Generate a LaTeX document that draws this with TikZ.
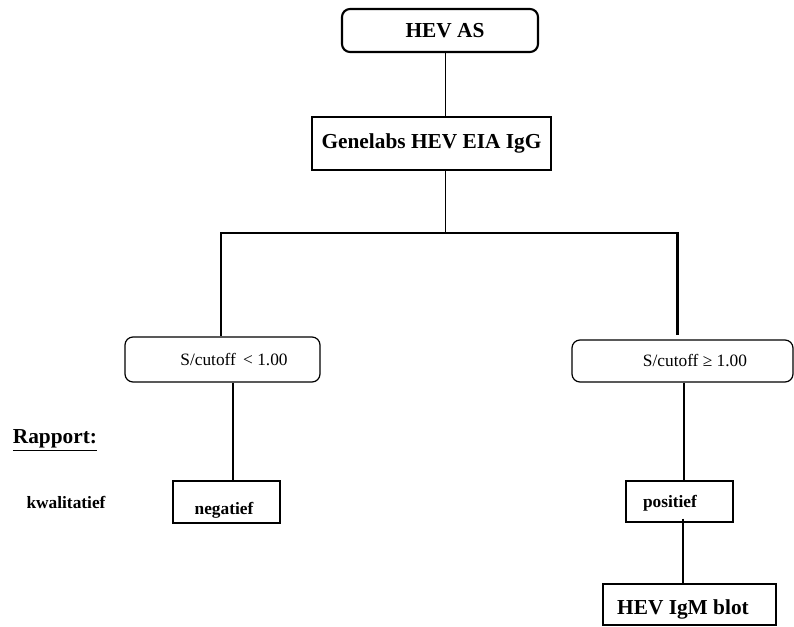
\documentclass[tikz,border=0pt]{standalone}
\usepackage{fontspec}
\setmainfont{Liberation Serif}
\usetikzlibrary{calc}
\def\bigfs{\fontsize{16}{18}\selectfont\bfseries}
\def\smallfs{\fontsize{13}{15}\selectfont}

\begin{document}
\begin{tikzpicture}[
	x=0.75pt,y=-0.75pt,
	box/.style={rectangle,draw,line width=0.9pt,inner sep=0pt},
	rbox/.style={rectangle,rounded corners=6pt,draw,line width=0.9pt,inner sep=0pt},
	txt/.style={inner sep=0pt,font=\smallfs\bfseries},
	link/.style={line width=1.2pt}
	]
	\useasboundingbox (0,0) rectangle (794,626);
	
	\node[rbox, line width=1.6pt, minimum width=147pt, minimum height=32.25pt] (hevas) at (440,30.5) {};
	\node[inner sep=0pt, font=\bigfs] (hevastxt) at (445,31) {HEV AS};
	\node[box, minimum width=179.25pt, minimum height=39.75pt, font=\bigfs] (eia) at (431.5,143.5) {Genelabs HEV EIA IgG};
	
	\coordinate (trunk) at (445,233);
	\coordinate (lsplit) at (221,233);
	\coordinate (rsplit) at (677,233);
	
	\draw[line width=0.75pt] (hevas.south -| trunk) -- (eia.north -| trunk);
	\draw[line width=0.75pt] (eia.south -| trunk) -- (trunk);
	\draw[line width=0.9pt] ($(lsplit)+(-1,0)$) -- ($(rsplit)+(2,0)$);
	
	\node[rbox, minimum width=146.25pt, minimum height=33.75pt] (low) at (222.5,359.5) {};
	\node[inner sep=0pt, font=\smallfs] (lowtxt) at (234,359.5) {S/cutoff\, < 1.00};
	\node[rbox, minimum width=165.75pt, minimum height=31.5pt] (high) at (682.5,361) {};
	\node[inner sep=0pt, font=\smallfs] (hightxt) at (695,361) {S/cutoff ≥ 1.00};
	
	\draw[line width=1.5pt] (lsplit) -- (low.north -| lsplit);
	\draw[line width=2.25pt] (rsplit) -- ($(high.north -| rsplit)+(0,-4)$);
	
	% rapport
	\node[inner sep=0pt, font=\bigfs] (rapport) at (55,440) {\underline{Rapport:}};
	\node[txt] (kwal) at (66,502) {kwalitatief};
	
	\node[box, minimum width=80.25pt, minimum height=31.5pt] (neg) at (226.5,502) {};
	\node[txt] (negtxt) at (224,510) {negatief};
	\node[box, minimum width=80.25pt, minimum height=30.75pt] (pos) at (679.5,501.5) {};
	\node[txt] (postxt) at (670,503) {positief};
	
	\draw[link] (low.south -| 233,0) -- (neg.north -| 233,0);
	\draw[link] (high.south -| 684,0) -- (pos.north -| 684,0);
	
	\node[box, minimum width=129.75pt, minimum height=30.75pt] (blot) at (689.5,604.5) {};
	\node[inner sep=0pt, font=\bigfs] (blottxt) at (683,609) {HEV IgM blot};
	\draw[line width=0.9pt] ($(pos.south -| 683,0)+(0,-4)$) -- (blot.north -| 683,0);
\end{tikzpicture}
\end{document}
